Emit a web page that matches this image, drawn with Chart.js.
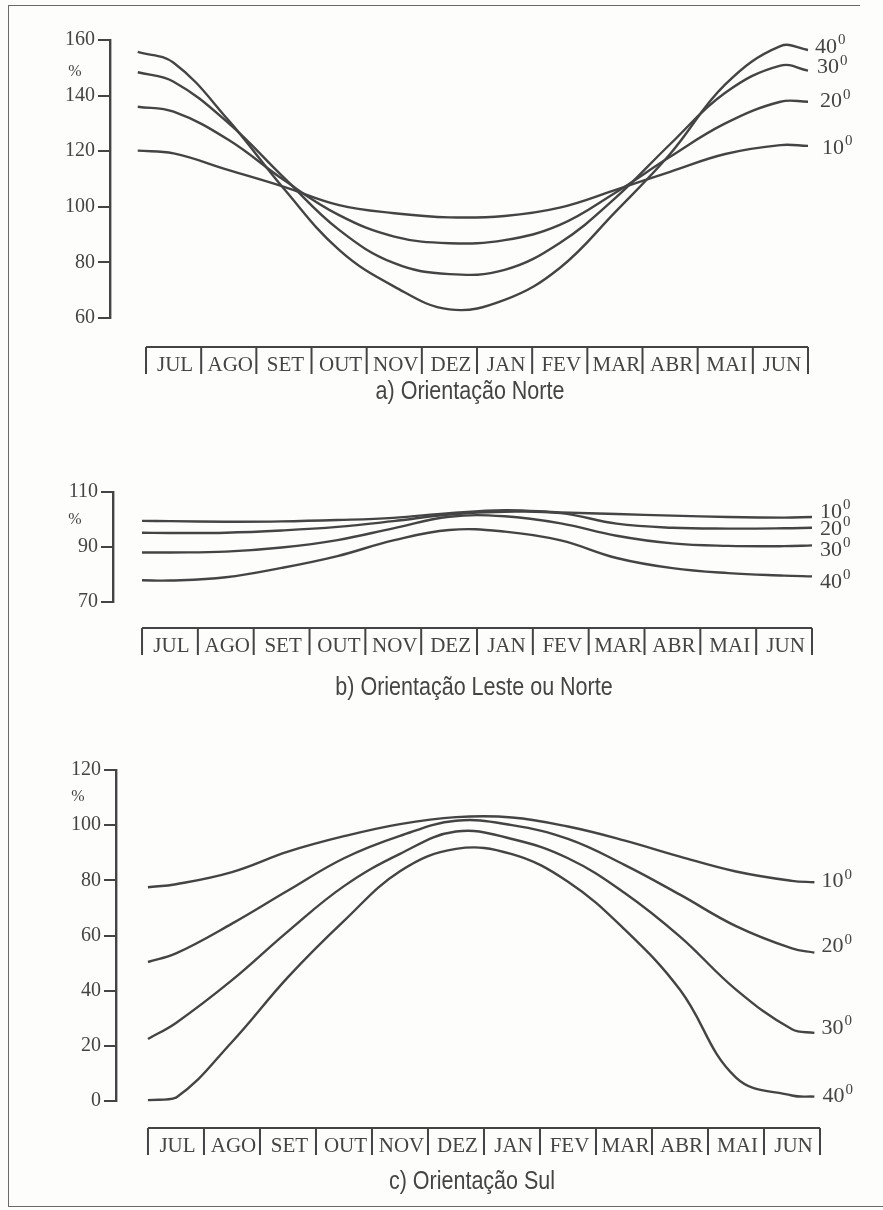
<!DOCTYPE html>
<html lang="pt">
<head>
<meta charset="utf-8">
<title>Orientação Norte, Leste, Sul</title>
<script src="https://cdn.jsdelivr.net/npm/chart.js@4"></script>
<style>
  html, body { margin: 0; padding: 0; background: #fdfdfb; }
  body { width: 883px; height: 1210px; position: relative; overflow: hidden; }
  canvas { position: absolute; left: 0; }
  .rule { position: absolute; background: #6a6a6a; }
</style>
</head>
<body>
<div class="rule" style="left:8px;top:5px;width:852px;height:1px"></div>
<div class="rule" style="left:8px;top:5px;width:1px;height:1202px"></div>
<div class="rule" style="left:8px;top:1206px;width:875px;height:1px"></div>
<canvas id="chart-a" width="883" height="420" style="top:0"></canvas>
<canvas id="chart-b" width="883" height="280" style="top:440px"></canvas>
<canvas id="chart-c" width="883" height="490" style="top:720px"></canvas>
<script>
// months shown in the boxes under each panel (position 0..12 = box edges)
const months = ['JUL', 'AGO', 'SET', 'OUT', 'NOV', 'DEZ', 'JAN', 'FEV', 'MAR', 'ABR', 'MAI', 'JUN'];
const angles = [10, 20, 30, 40];
const captions = ['a) Orientação Norte', 'b) Orientação Leste ou Norte', 'c) Orientação Sul'];

// a) Norte
const norteX = [-0.15, 0.5, 1.5, 2.5, 3.5, 4.5, 5.5, 6.5, 7.5, 8.5, 9.5, 10.5, 11.5, 12];
const norte10 = [120.2, 119.2, 113.2, 107.2, 100.6, 97.7, 96.2, 96.7, 99.7, 106, 112.6, 119, 122.2, 121.9];
const norte20 = [136, 134.2, 124, 109.6, 97, 89.3, 86.9, 88, 93.5, 105, 118, 130, 137.8, 137.8];
const norte30 = [148.4, 145, 130, 110.5, 91.7, 79.7, 75.8, 77.3, 87, 103, 122.5, 141, 150.8, 149];
const norte40 = [155.7, 151.8, 131, 106.5, 84.5, 71.3, 63.1, 66.5, 78, 98, 119, 144, 157.8, 156.4];

// b) Leste ou Norte
const lesteX = [0, 0.5, 1.5, 2.5, 3.5, 4.5, 5.5, 6.5, 7.5, 8.5, 9.5, 10.5, 11.5, 12];
const leste10 = [99.5, 99.4, 99.2, 99.3, 99.8, 100.6, 102.3, 103.4, 102.6, 102, 101.4, 100.9, 100.7, 100.9];
const leste20 = [95.2, 95.1, 95.2, 96, 97.3, 99.4, 101.8, 102.8, 102.3, 98.5, 97, 96.7, 96.8, 97];
const leste30 = [88, 88, 88.3, 89.8, 92.5, 96.8, 101, 101.2, 98.6, 94.1, 91.3, 90.4, 90.3, 90.6];
const leste40 = [77.9, 77.8, 79, 82.4, 86.7, 92.4, 96.2, 95.6, 92.4, 86, 82.3, 80.5, 79.6, 79.3];

// c) Sul
const sulX = [0, 0.5, 1.5, 2.5, 3.5, 4.5, 5.5, 6.5, 7.5, 8.5, 9.5, 10.5, 11.5, 11.9];
const sul10 = [77.5, 78.6, 83, 90.4, 96, 100.4, 102.9, 102.8, 99.5, 94.5, 88.6, 83.2, 79.8, 79.3];
const sul20 = [50.4, 53.5, 64.3, 76.3, 88, 96.1, 101.6, 100, 95, 85.7, 74.8, 63.4, 55.3, 53.8];
const sul30 = [22.5, 28.3, 43.8, 61.5, 77.9, 89.6, 97.7, 95, 88, 75.6, 59.6, 40.4, 26, 24.7];
const sul40 = [0.3, 1.2, 21.4, 44.9, 65.3, 83.3, 91.4, 89.5, 79.5, 62.4, 40.3, 8.5, 2, 1.6];

const INK = '#444444';
const SERIF = '"Liberation Serif", "DejaVu Serif", serif';
const SANS = '"Liberation Sans Narrow", "Liberation Sans", Arial, sans-serif';

function points(xs, ys) {
    return xs.map((x, i) => ({ x: x, y: ys[i] }));
}

// draws the % sign, the month boxes, the caption and the 10°..40° labels
const extras = {
    id: 'extras',
    afterDraw(chart, args, o) {
        const ctx = chart.ctx;
        const x = chart.scales.x;
        const area = chart.chartArea;
        ctx.save();
        ctx.fillStyle = INK;
        ctx.strokeStyle = INK;

        ctx.font = `16px ${SERIF}`;
        ctx.textAlign = 'center';
        ctx.textBaseline = 'middle';
        ctx.fillText('%', o.pctX, area.top + o.pctDy);

        // month boxes
        const x0 = x.getPixelForValue(0);
        const x12 = x.getPixelForValue(12);
        ctx.lineWidth = 2;
        ctx.beginPath();
        ctx.moveTo(x0, o.boxTop);
        ctx.lineTo(x12, o.boxTop);
        for (let i = 0; i <= 12; i++) {
            const px = x.getPixelForValue(i);
            ctx.moveTo(px, o.boxTop);
            ctx.lineTo(px, o.boxTop + 27);
        }
        ctx.stroke();
        ctx.font = `21px ${SERIF}`;
        ctx.textBaseline = 'alphabetic';
        months.forEach((m, i) => {
            ctx.fillText(m, x.getPixelForValue(i + 0.5) + 1.5, o.boxTop + 24);
        });

        // caption
        ctx.save();
        ctx.translate(o.captionX, o.captionY);
        ctx.scale(0.86, 1);
        ctx.font = `25px ${SANS}`;
        ctx.textBaseline = 'middle';
        ctx.fillText(o.caption, 0, 0);
        ctx.restore();

        // curve labels
        ctx.textAlign = 'left';
        ctx.textBaseline = 'middle';
        chart.data.datasets.forEach((ds, i) => {
            const meta = chart.getDatasetMeta(i);
            const last = meta.data[meta.data.length - 1];
            const lx = last.x + o.labelDx[i];
            const ly = last.y + o.labelDy[i];
            ctx.font = `22px ${SERIF}`;
            const txt = String(angles[i]);
            ctx.fillText(txt, lx, ly);
            const w = ctx.measureText(txt).width;
            ctx.font = `15px ${SERIF}`;
            ctx.fillText('0', lx + w + 1, ly - 7);
        });
        ctx.restore();
    }
};

function makeChart(id, xs, series, p) {
    return new Chart(document.getElementById(id), {
        type: 'line',
        data: {
            datasets: series.map(ys => ({
                data: points(xs, ys),
                borderColor: INK,
                borderWidth: 2.4,
                pointRadius: 0,
                fill: false,
                tension: 0.4,
                clip: false
            }))
        },
        options: {
            responsive: false,
            animation: false,
            devicePixelRatio: 1,
            layout: { padding: { top: p.padTop, bottom: p.padBottom, left: 0, right: p.padRight } },
            plugins: {
                legend: { display: false },
                tooltip: { enabled: false },
                extras: p
            },
            scales: {
                x: { type: 'linear', min: p.xMin, max: 12, display: false },
                y: {
                    min: p.yMin,
                    max: p.yMax,
                    afterFit: s => { s.width = p.axisW; },
                    ticks: { stepSize: 20, color: INK, font: { family: SERIF, size: 20 }, padding: 3 },
                    grid: { drawOnChartArea: false, drawTicks: true, tickLength: 12, color: INK, lineWidth: 2 },
                    border: { display: true, color: INK, width: 2.4 }
                }
            }
        },
        plugins: [extras]
    });
}

makeChart('chart-a', norteX, [norte10, norte20, norte30, norte40], {
    padTop: 40, padBottom: 102, padRight: 75, axisW: 110,
    xMin: -0.653, yMin: 60, yMax: 160,
    pctX: 75, pctDy: 32, boxTop: 347, captionX: 470, captionY: 392, caption: captions[0],
    labelDx: [14, 12, 9, 7], labelDy: [2, 0, -3, -3]
});

makeChart('chart-b', lesteX, [leste10, leste20, leste30, leste40], {
    padTop: 52, padBottom: 118, padRight: 71, axisW: 113,
    xMin: -0.52, yMin: 70, yMax: 110,
    pctX: 75, pctDy: 28, boxTop: 188, captionX: 474, captionY: 248, caption: captions[1],
    labelDx: [8, 8, 8, 8], labelDy: [-4.7, 1.7, 5, 6]
});

makeChart('chart-c', sulX, [sul10, sul20, sul30, sul40], {
    padTop: 50, padBottom: 109, padRight: 63, axisW: 116,
    xMin: -0.571, yMin: 0, yMax: 120,
    pctX: 78, pctDy: 27, boxTop: 408, captionX: 472, captionY: 462, caption: captions[2],
    labelDx: [7, 7, 7, 8], labelDy: [-0.6, -6, -5, 0]
});
</script>
</body>
</html>
